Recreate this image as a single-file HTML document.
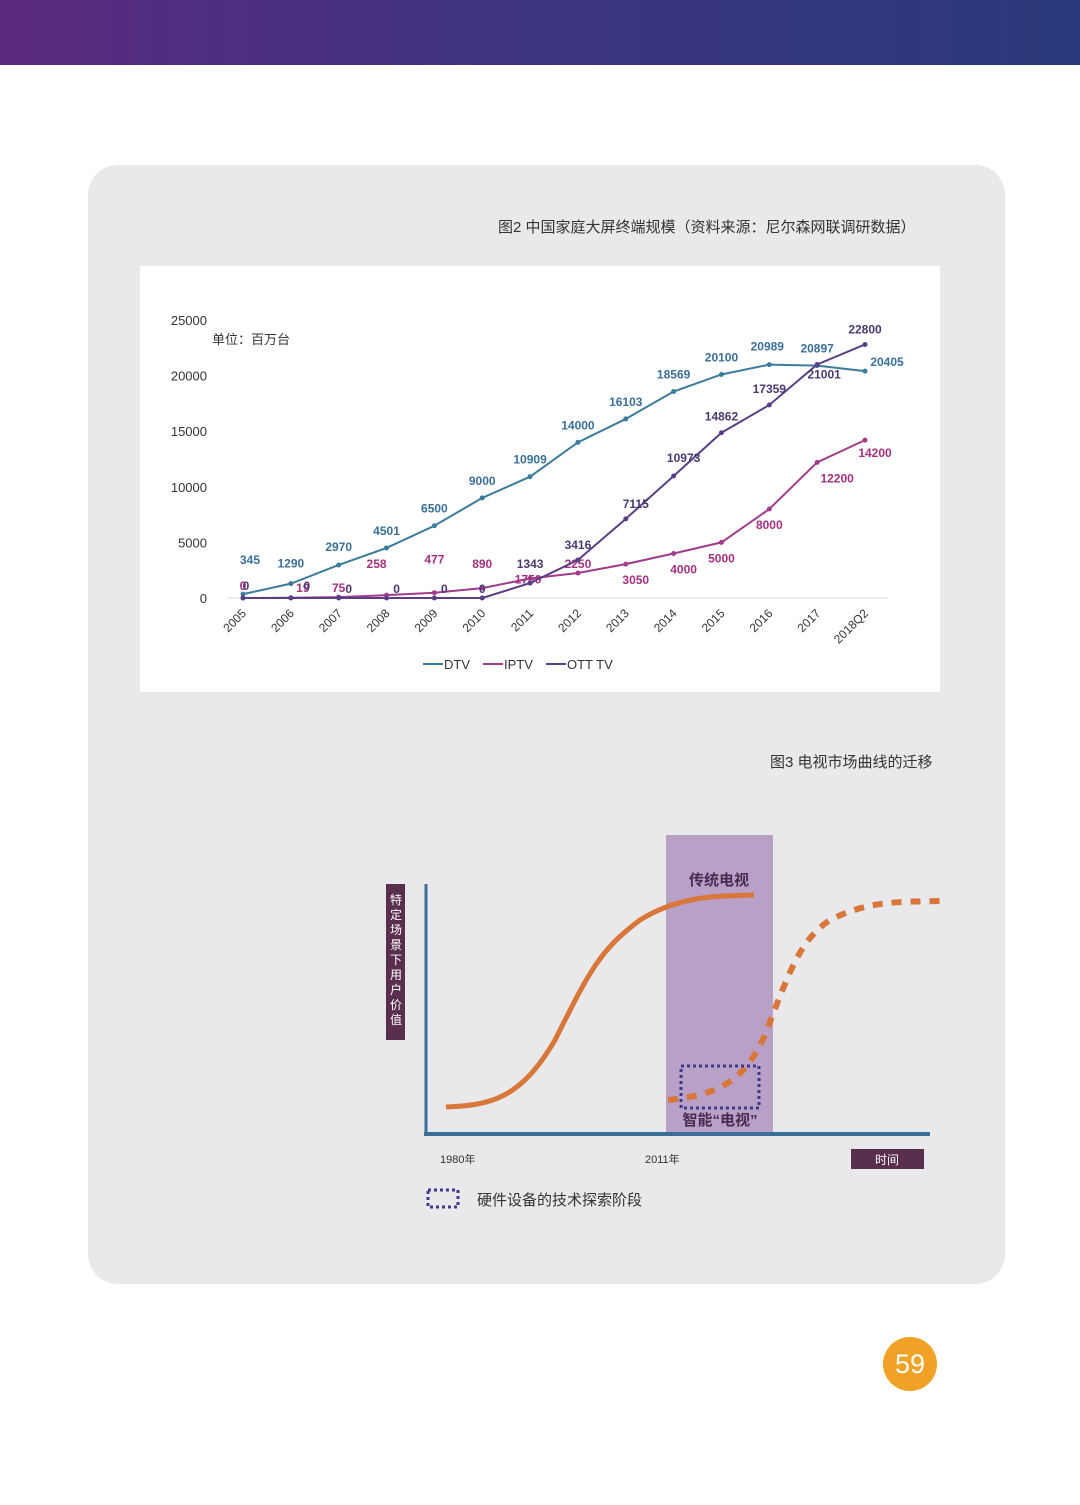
<!DOCTYPE html>
<html><head><meta charset="utf-8">
<style>
html,body{margin:0;padding:0;background:#fff;}
body{width:1080px;height:1505px;position:relative;overflow:hidden;font-family:"Liberation Sans","Noto Sans CJK SC",sans-serif;}
</style></head>
<body>
<div style="position:absolute;left:0;top:0;width:1080px;height:65px;background:linear-gradient(90deg,#5b2a7f,#3d3580 50%,#2a3a7a);"></div>
<div style="position:absolute;left:88px;top:165px;width:917px;height:1119px;background:#e9e8ea;border-radius:30px;"></div>
<div style="position:absolute;left:498px;top:216px;font-size:15px;color:#333;">图2 中国家庭大屏终端规模（资料来源：尼尔森网联调研数据）</div>
<div style="position:absolute;left:140px;top:266px;width:800px;height:426px;background:#fff;"></div>
<svg id="chart" style="position:absolute;left:0;top:0;" width="1080" height="760"></svg>
<div style="position:absolute;left:770px;top:751px;font-size:15px;color:#333;">图3 电视市场曲线的迁移</div>
<svg style="position:absolute;left:0;top:800px;" width="1080" height="440">
  <rect x="666" y="35" width="107" height="300" fill="#b9a0c6"/>
  <text x="719" y="85" font-size="15" font-weight="bold" fill="#4a2a50" text-anchor="middle" font-family="Liberation Sans,Noto Sans CJK SC,sans-serif">传统电视</text>
  <path d="M446,307 C490,305 520,300 555,240 C590,170 600,150 640,120 C680,95 720,96 754,95" fill="none" stroke="#d9773a" stroke-width="5"/>
  <path d="M668,300 C720,295 745,280 765,235 C790,170 800,140 830,120 C870,100 900,102 940,101" fill="none" stroke="#d9773a" stroke-width="6" stroke-dasharray="10,9"/>
  <rect x="681" y="266" width="78" height="42" fill="none" stroke="#3c3a8c" stroke-width="3" stroke-dasharray="3,3"/>
  <text x="720" y="325" font-size="15" font-weight="bold" fill="#4a2a50" text-anchor="middle" font-family="Liberation Sans,Noto Sans CJK SC,sans-serif">智能“电视”</text>
  <line x1="426" y1="84" x2="426" y2="335" stroke="#3a6e99" stroke-width="3"/>
  <line x1="424" y1="334" x2="930" y2="334" stroke="#3a6e99" stroke-width="4"/>
  <rect x="386" y="84" width="19" height="156" fill="#5a2f4e"/>
  <text font-size="12" fill="#fff" font-family="Noto Sans CJK SC,sans-serif" text-anchor="middle">
    <tspan x="396" y="104">特</tspan><tspan x="396" y="119">定</tspan><tspan x="396" y="134">场</tspan><tspan x="396" y="149">景</tspan><tspan x="396" y="164">下</tspan><tspan x="396" y="179">用</tspan><tspan x="396" y="194">户</tspan><tspan x="396" y="209">价</tspan><tspan x="396" y="224">值</tspan></text>
  <text x="440" y="363" font-size="11" fill="#333">1980年</text>
  <text x="645" y="363" font-size="11" fill="#333">2011年</text>
  <rect x="851" y="349" width="73" height="20" fill="#5a2f4e"/>
  <text x="887" y="364" font-size="12" fill="#fff" text-anchor="middle" font-family="Noto Sans CJK SC,sans-serif">时间</text>
  <rect x="428" y="390" width="30" height="17" fill="none" stroke="#3c3a8c" stroke-width="3" stroke-dasharray="3,3"/>
  <text x="477" y="405" font-size="15" fill="#333" font-family="Noto Sans CJK SC,sans-serif">硬件设备的技术探索阶段</text>
</svg>
<div style="position:absolute;left:883px;top:1337px;width:54px;height:54px;border-radius:50%;background:#f0a226;color:#fff;font-size:27px;line-height:54px;text-align:center;">59</div>
<script>
const categories=["2005","2006","2007","2008","2009","2010","2011","2012","2013","2014","2015","2016","2017","2018Q2"];
const dtv=[345,1290,2970,4501,6500,9000,10909,14000,16103,18569,20100,20989,20897,20405];
const iptv=[0,19,75,258,477,890,1750,2250,3050,4000,5000,8000,12200,14200];
const ott=[0,0,0,0,0,0,1343,3416,7115,10973,14862,17359,21001,22800];
const yTicks=[0,5000,10000,15000,20000,25000];
const NS="http://www.w3.org/2000/svg";
const svg=document.getElementById('chart');
const x0=243,x1=865,y0=598,y1=320,ymax=25000;
function xs(i){return x0+i*(x1-x0)/(categories.length-1);}
function ys(v){return y0-(v/ymax)*(y0-y1);}
function mk(t,a){const e=document.createElementNS(NS,t);for(const k in a)e.setAttribute(k,a[k]);svg.appendChild(e);return e;}
const base=mk('line',{x1:228,y1:y0,x2:888,y2:y0,stroke:'#d9d9d9'});


yTicks.forEach(v=>{const t=mk('text',{x:207,y:ys(v)+5,'font-size':13,fill:'#333','text-anchor':'end'});t.textContent=v;

});
categories.forEach((c,i)=>{const t=mk('text',{x:xs(i)+4,y:y0+16,'font-size':12,fill:'#333','text-anchor':'end',transform:`rotate(-45 ${xs(i)+4} ${y0+16})`});t.textContent=c;

});
const unit=mk('text',{x:212,y:344,'font-size':13,fill:'#333','font-family':'Noto Sans CJK SC,sans-serif'});unit.textContent='单位：百万台';


const series=[
 {name:'dtv',data:dtv,color:'#3b7b9c',lc:'#3a6f9a',dy:[-30,-16,-14,-13,-13,-13,-13,-13,-13,-13,-13,-14,-13,-5],dx:[7,0,0,0,0,0,0,0,0,0,0,-2,0,22]},
 {name:'iptv',data:iptv,color:'#a03c8a',lc:'#a62f7f',dy:[-8,-6,-5,-27,-29,-20,5,-5,20,20,20,20,20,17],dx:[0,12,0,-10,0,0,-2,0,10,10,0,0,20,10]},
 {name:'ott-tv',data:ott,color:'#5b3f86',lc:'#4a3870',dy:[-8,-8,-5,-5,-5,-5,-15,-11,-11,-14,-12,-12,14,-11],dx:[3,16,10,10,10,0,0,0,10,10,0,0,7,0]}
];
series.forEach(s=>{
 const p=mk('polyline',{points:s.data.map((v,i)=>xs(i)+','+ys(v)).join(' '),fill:'none',stroke:s.color,'stroke-width':2});
 
 
 s.data.forEach((v,i)=>{
  const c=mk('circle',{cx:xs(i),cy:ys(v),r:2.5,fill:s.color});
  
  
  const t=mk('text',{x:xs(i)+s.dx[i],y:ys(v)+s.dy[i],'font-size':12,'font-weight':'bold',fill:s.lc,'text-anchor':'middle'});
  t.textContent=v;
  
  
 });
});
const leg=[['DTV','#3b7b9c',423],['IPTV','#a03c8a',483],['OTT TV','#5b3f86',546]];
leg.forEach(l=>{
 const ln=mk('line',{x1:l[2],y1:664,x2:l[2]+20,y2:664,stroke:l[1],'stroke-width':2});
 
 
 const t=mk('text',{x:l[2]+21,y:669,'font-size':13,fill:'#333'});t.textContent=l[0];
 
 
});
</script>
</body></html>
